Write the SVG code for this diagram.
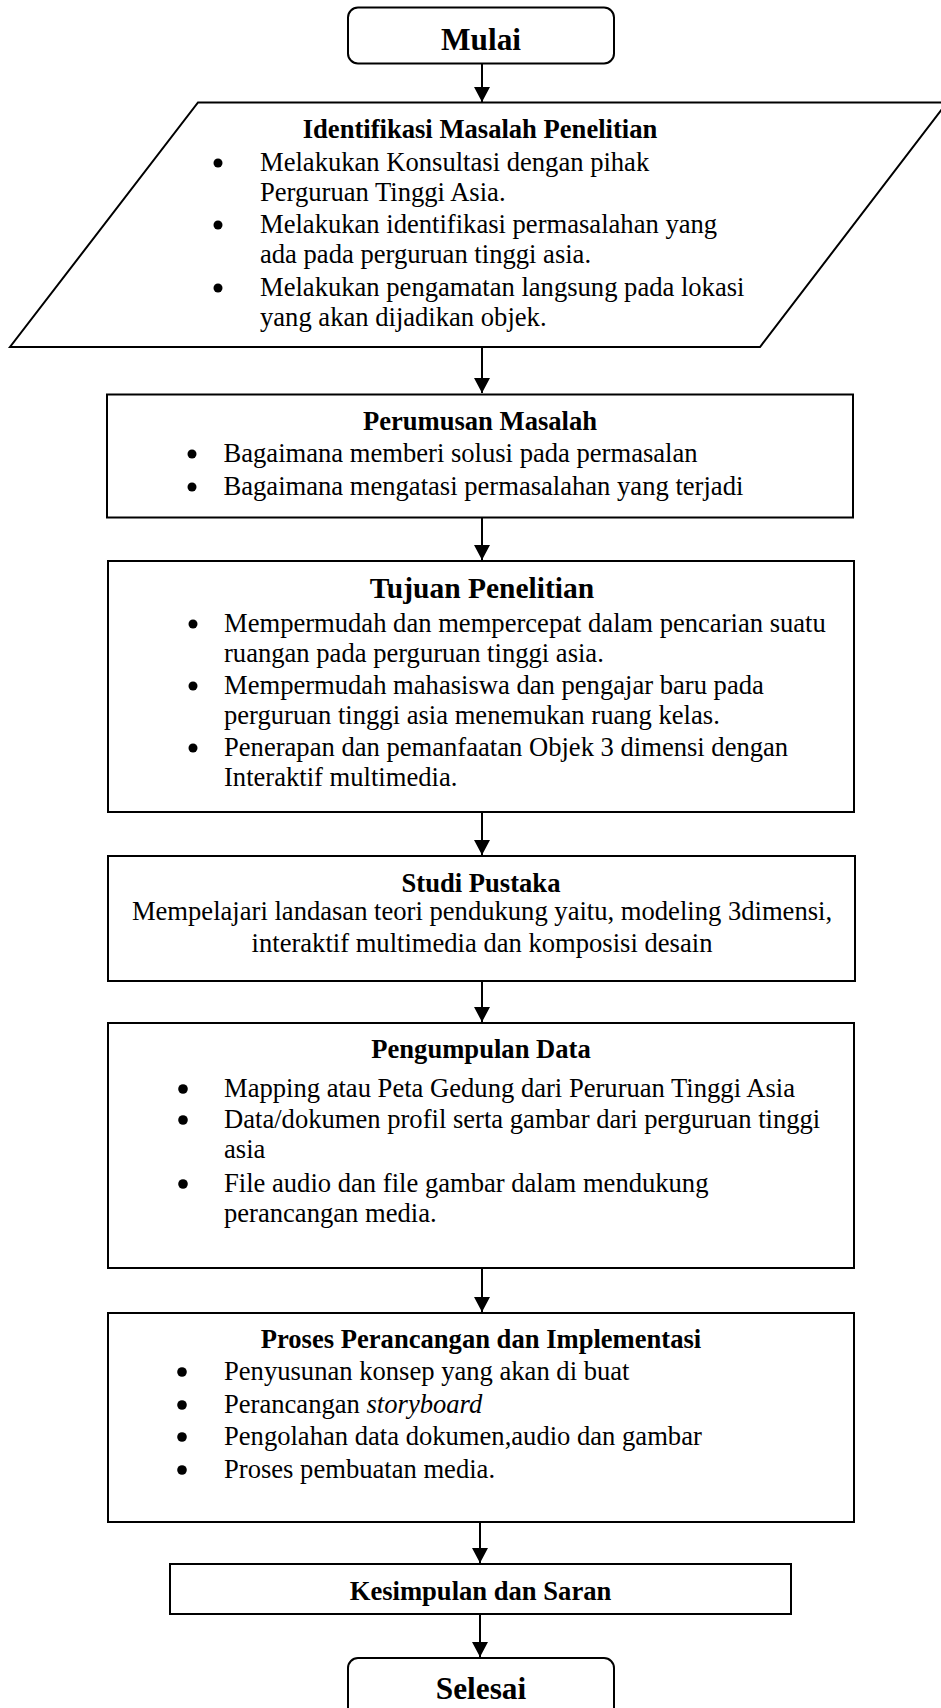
<svg xmlns="http://www.w3.org/2000/svg" width="941" height="1708" viewBox="0 0 941 1708">
<style>
text{font-family:"Liberation Serif","Times New Roman",serif;fill:#000;}
.t{font-size:26.6px;}
.b{font-weight:bold;font-size:26.6px;text-anchor:middle;}
.bt{font-weight:bold;font-size:29.5px;text-anchor:middle;}
.bb{font-weight:bold;font-size:31.3px;text-anchor:middle;}
.c{text-anchor:middle;}
.s{fill:#fff;stroke:#000;stroke-width:2;}
.e{stroke:#000;stroke-width:2;fill:none;}
.d{fill:#000;}
</style>
<defs>
<marker id="ah" markerWidth="16" markerHeight="16" refX="15" refY="8" orient="auto" markerUnits="userSpaceOnUse">
<path d="M0,0 L15,8 L0,16 z" fill="#000"/>
</marker>
</defs>
<rect width="941" height="1708" fill="#fff"/>
<g id="connectors">
<line class="e" x1="482" y1="63" x2="482" y2="102" marker-end="url(#ah)"/>
<line class="e" x1="482" y1="347" x2="482" y2="393" marker-end="url(#ah)"/>
<line class="e" x1="482" y1="518" x2="482" y2="560" marker-end="url(#ah)"/>
<line class="e" x1="482" y1="812" x2="482" y2="855" marker-end="url(#ah)"/>
<line class="e" x1="482" y1="981" x2="482" y2="1022" marker-end="url(#ah)"/>
<line class="e" x1="482" y1="1268" x2="482" y2="1312" marker-end="url(#ah)"/>
<line class="e" x1="480" y1="1522" x2="480" y2="1563" marker-end="url(#ah)"/>
<line class="e" x1="480" y1="1614" x2="480" y2="1657" marker-end="url(#ah)"/>
</g>
<g id="mulai">
<rect class="s" x="348" y="7.5" width="266" height="56" rx="10"/>
<text class="bb" x="481" y="50">Mulai</text>
</g>
<g id="identifikasi">
<polygon class="s" points="198,102.5 947,102.5 760,347 10,347"/>
<text class="b" x="480" y="137.5">Identifikasi Masalah Penelitian</text>
<circle class="d" cx="218" cy="163" r="4.5"/>
<circle class="d" cx="218" cy="225" r="4.5"/>
<circle class="d" cx="218" cy="288" r="4.5"/>
<text class="t" x="260" y="171">Melakukan Konsultasi dengan pihak</text>
<text class="t" x="260" y="201">Perguruan Tinggi Asia.</text>
<text class="t" x="260" y="233">Melakukan identifikasi permasalahan yang</text>
<text class="t" x="260" y="263">ada pada perguruan tinggi asia.</text>
<text class="t" x="260" y="295.5">Melakukan pengamatan langsung pada lokasi</text>
<text class="t" x="260" y="325.5">yang akan dijadikan objek.</text>
</g>
<g id="perumusan">
<rect class="s" x="107" y="394.5" width="746" height="123"/>
<text class="b" x="480" y="430">Perumusan Masalah</text>
<circle class="d" cx="192" cy="454" r="4.5"/>
<circle class="d" cx="192" cy="487" r="4.5"/>
<text class="t" x="223.5" y="461.5">Bagaimana memberi solusi pada permasalan</text>
<text class="t" x="223.5" y="495">Bagaimana mengatasi permasalahan yang terjadi</text>
</g>
<g id="tujuan">
<rect class="s" x="108" y="561" width="746" height="251"/>
<text class="bt" x="482" y="598">Tujuan Penelitian</text>
<circle class="d" cx="193" cy="624" r="4.5"/>
<circle class="d" cx="193" cy="686" r="4.5"/>
<circle class="d" cx="193" cy="748" r="4.5"/>
<text class="t" x="224" y="632">Mempermudah dan mempercepat dalam pencarian suatu</text>
<text class="t" x="224" y="662">ruangan pada perguruan tinggi asia.</text>
<text class="t" x="224" y="694">Mempermudah mahasiswa dan pengajar baru pada</text>
<text class="t" x="224" y="724">perguruan tinggi asia menemukan ruang kelas.</text>
<text class="t" x="224" y="756">Penerapan dan pemanfaatan Objek 3 dimensi dengan</text>
<text class="t" x="224" y="786">Interaktif multimedia.</text>
</g>
<g id="studi">
<rect class="s" x="108" y="856" width="747" height="125"/>
<text class="b" x="481" y="892">Studi Pustaka</text>
<text class="t c" x="482" y="920">Mempelajari landasan teori pendukung yaitu, modeling 3dimensi,</text>
<text class="t c" x="482" y="952">interaktif multimedia dan komposisi desain</text>
</g>
<g id="pengumpulan">
<rect class="s" x="108" y="1023" width="746" height="245"/>
<text class="b" x="481" y="1058">Pengumpulan Data</text>
<circle class="d" cx="183" cy="1089" r="4.8"/>
<circle class="d" cx="183" cy="1120" r="4.8"/>
<circle class="d" cx="183" cy="1184" r="4.8"/>
<text class="t" x="224" y="1097">Mapping atau Peta Gedung dari Peruruan Tinggi Asia</text>
<text class="t" x="224" y="1128">Data/dokumen profil serta gambar dari perguruan tinggi</text>
<text class="t" x="224" y="1158">asia</text>
<text class="t" x="224" y="1192">File audio dan file gambar dalam mendukung</text>
<text class="t" x="224" y="1222">perancangan media.</text>
</g>
<g id="proses">
<rect class="s" x="108" y="1313" width="746" height="209"/>
<text class="b" x="481" y="1348">Proses Perancangan dan Implementasi</text>
<circle class="d" cx="182" cy="1372" r="4.8"/>
<circle class="d" cx="182" cy="1405" r="4.8"/>
<circle class="d" cx="182" cy="1437" r="4.8"/>
<circle class="d" cx="182" cy="1470" r="4.8"/>
<text class="t" x="224" y="1380">Penyusunan konsep yang akan di buat</text>
<text class="t" x="224" y="1413">Perancangan <tspan font-style="italic">storyboard</tspan></text>
<text class="t" x="224" y="1445">Pengolahan data dokumen,audio dan gambar</text>
<text class="t" x="224" y="1478">Proses pembuatan media.</text>
</g>
<g id="kesimpulan">
<rect class="s" x="170" y="1564" width="621" height="50"/>
<text class="b" x="480.5" y="1600">Kesimpulan dan Saran</text>
</g>
<g id="selesai">
<rect class="s" x="348" y="1658" width="266" height="70" rx="10"/>
<text class="bb" x="481" y="1699">Selesai</text>
</g>
</svg>
